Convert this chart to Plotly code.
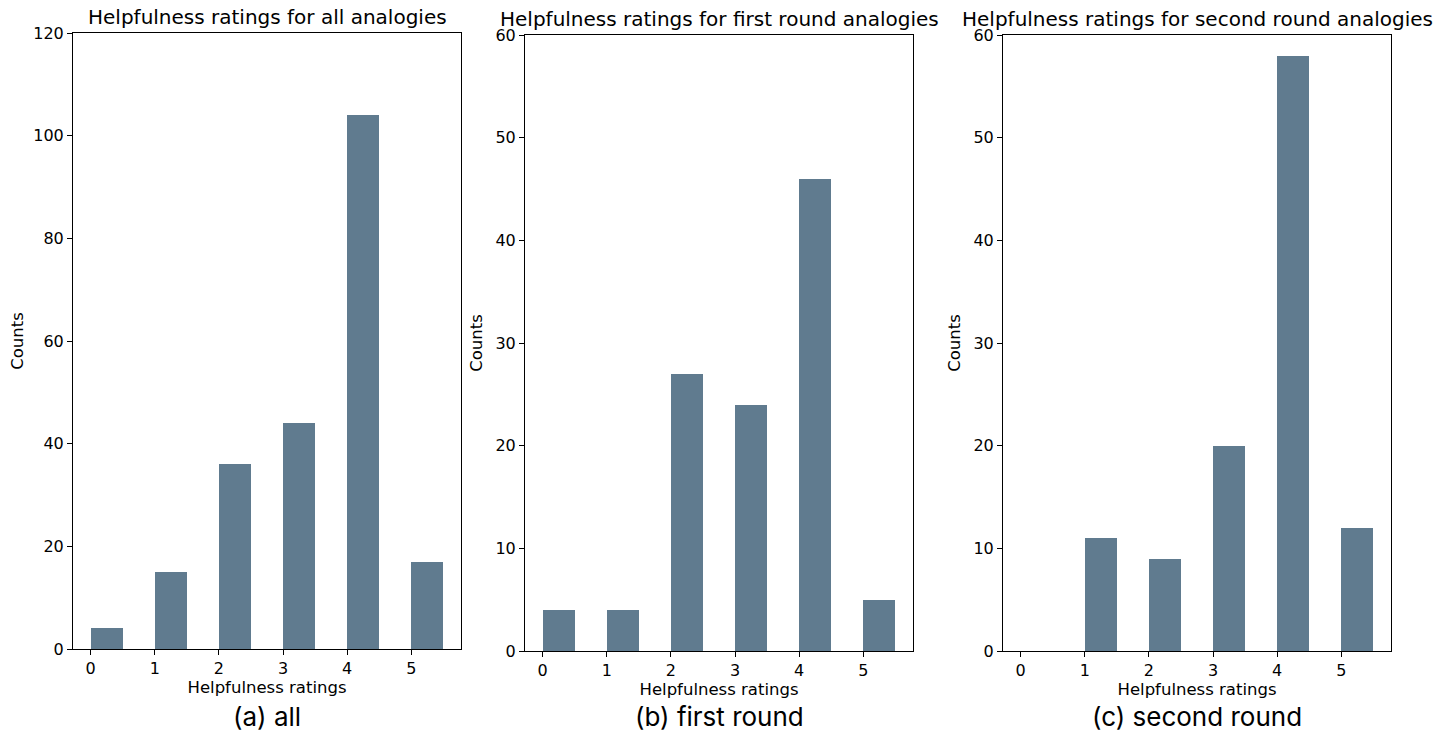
import plotly.graph_objects as go

# the page body adds an 8px margin, so the figure is drawn 8px smaller and shifted
PAD = 8
W, H = 1443 - PAD, 735 - PAD

ratings = [0, 1, 2, 3, 4, 5]
counts_all = [4, 15, 36, 44, 104, 17]
counts_first = [4, 4, 27, 24, 46, 5]
counts_second = [0, 11, 9, 20, 58, 12]

titles = ["Helpfulness ratings for all analogies",
          "Helpfulness ratings for first round analogies",
          "Helpfulness ratings for second round analogies"]
captions = ["(a) all", "(b) first round", "(c) second round"]
y_max = [120, 60, 60]
y_dtick = [20, 10, 10]

bar_color = "#607b8f"
font_mpl = "DejaVu Sans"

# axes boxes in screen pixels: left, right, top, bottom
boxes = [(73, 461, 33, 649), (525, 913, 35, 651), (1003, 1391, 35, 651)]


def px_x(v):
    return (v - PAD) / W


def px_y(v):
    return 1 - (v - PAD) / H


fig = go.Figure()
series = [counts_all, counts_first, counts_second]

for i, (counts, box) in enumerate(zip(series, boxes)):
    n = "" if i == 0 else str(i + 1)
    left, right, top, bottom = box
    # histogram bins start at the rating and are 0.5 wide
    fig.add_trace(go.Bar(x=[r + 0.25 for r in ratings], y=counts, width=0.5,
                         marker=dict(color=bar_color, line=dict(width=0)),
                         xaxis="x" + n, yaxis="y" + n, showlegend=False))
    axis_common = dict(showline=True, linecolor="black", linewidth=1, mirror=True,
                       ticks="outside", ticklen=5, tickcolor="black", showgrid=False,
                       zeroline=False, automargin=False,
                       tickfont=dict(family=font_mpl, size=16, color="black"))
    fig.update_layout(**{
        "xaxis" + n: dict(domain=[px_x(left), px_x(right)], range=[-0.275, 5.775],
                          tickvals=ratings, anchor="y" + n,
                          title=dict(text="Helpfulness ratings", standoff=2,
                                     font=dict(family=font_mpl, size=16.5, color="black")),
                          **axis_common),
        "yaxis" + n: dict(domain=[px_y(bottom), px_y(top)], range=[0, y_max[i]],
                          dtick=y_dtick[i], anchor="x" + n,
                          title=dict(text="Counts", standoff=8,
                                     font=dict(family=font_mpl, size=16.5, color="black")),
                          **axis_common),
    })
    cx = px_x((left + right) / 2)
    fig.add_annotation(text=titles[i], x=cx, y=px_y(top - 2), xref="paper", yref="paper",
                       xanchor="center", yanchor="bottom", showarrow=False,
                       font=dict(family=font_mpl, size=20, color="black"))
    fig.add_annotation(text=captions[i], x=cx, y=px_y(716), xref="paper", yref="paper",
                       xanchor="center", yanchor="middle", showarrow=False,
                       font=dict(family="Inter", size=26, color="black"))

fig.update_layout(width=W, height=H, margin=dict(l=0, r=0, t=0, b=0),
                  plot_bgcolor="white", paper_bgcolor="white", bargap=0)

fig.write_html("out.html")
